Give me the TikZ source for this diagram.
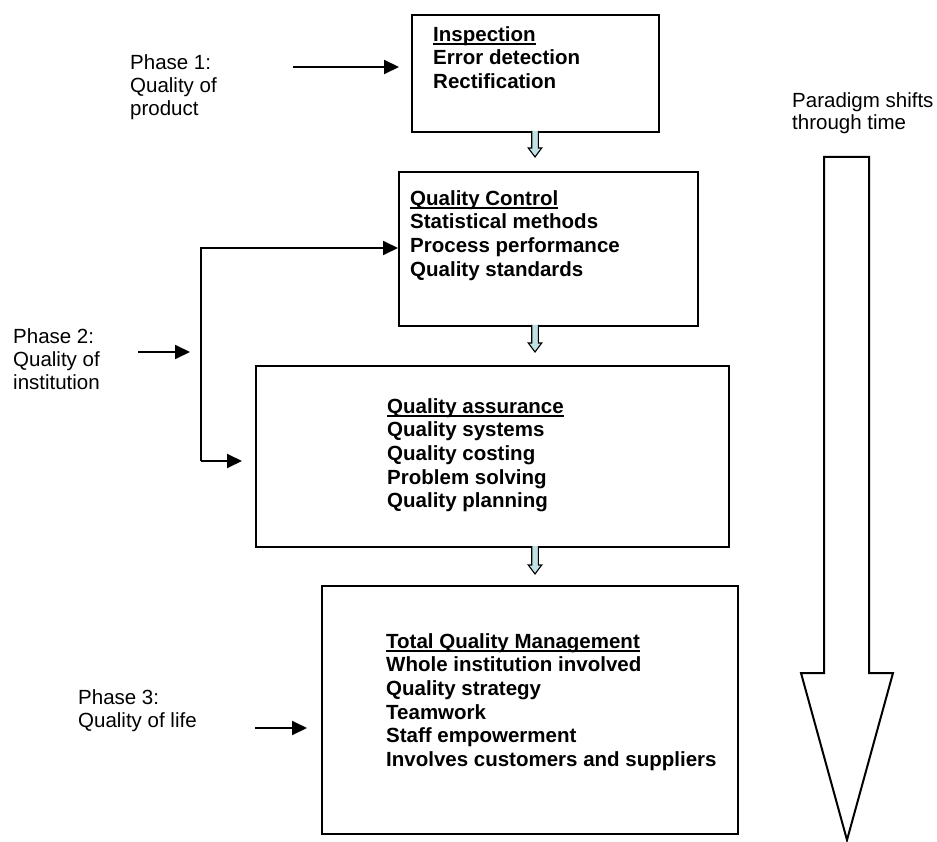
\documentclass[tikz,border=0pt]{standalone}
\usepackage{fontspec}
\setmainfont{Liberation Sans}
\usetikzlibrary{arrows.meta}

% heavy underline for the box headings
\newsavebox\headbox
\newcommand\headline[1]{\sbox\headbox{#1}\rlap{\vrule width\wd\headbox height -1.6pt depth 3.6pt}\usebox\headbox}

% small pale block arrow between two stages: x, top y, tip y
\newcommand\droparrow[3]{%
  \filldraw[stagearrow] (#1-3.3,#2) -- (#1-3.3,#3-9) -- (#1-6.7,#3-9) -- (#1,#3)
    -- (#1+6.7,#3-9) -- (#1+3.3,#3-9) -- (#1+3.3,#2);}

\definecolor{paleteal}{RGB}{192,226,228}

\begin{document}
\begin{tikzpicture}[x=1pt,y=-1pt,
  stage/.style={draw, line width=2pt, rectangle, inner sep=0pt, anchor=north west},
  stagetext/.style={anchor=north west, inner sep=0pt, align=left,
    font=\bfseries\fontsize{20.5}{23.7}\selectfont},
  phasetext/.style={anchor=north west, inner sep=0pt, align=left,
    font=\fontsize{20.5}{23}\selectfont},
  feed/.style={line width=2pt, -{Triangle[length=15pt,width=14pt]}},
  stagearrow/.style={draw=black, line width=1.1pt, fill=paleteal, line join=miter},
  timearrow/.style={draw=black, line width=2pt, fill=white, line join=miter}]

\useasboundingbox (0,0) rectangle (937,842);

% stage boxes
\node[stage, minimum width=247pt, minimum height=117pt] (insp) at (411,14) {};
\node[stage, minimum width=299pt, minimum height=154pt] (qc)   at (398,171) {};
\node[stage, minimum width=473pt, minimum height=181pt] (qa)   at (255,365) {};
\node[stage, minimum width=416pt, minimum height=248pt] (tqm)  at (321,585) {};

% stage contents
\node[stagetext] (insptext) at (433,24.4)
  {\strut\headline{Inspection}\\Error detection\\Rectification};
\node[stagetext] (qctext) at (410,188.4)
  {\strut\headline{Quality Control}\\Statistical methods\\Process performance\\Quality standards};
\node[stagetext] (qatext) at (387,396.4)
  {\strut\headline{Quality assurance}\\Quality systems\\Quality costing\\Problem solving\\Quality planning};
\node[stagetext] (tqmtext) at (386,631.4)
  {\strut\headline{Total Quality Management}\\Whole institution involved\\Quality strategy\\Teamwork\\Staff empowerment\\Involves customers and suppliers};

% arrows from one stage to the next
\droparrow{535}{131}{157}
\droparrow{535}{325}{352}
\droparrow{535}{546}{574}

% phase labels
\node[phasetext] (ph1) at (130,52.9) {\strut Phase 1:\\Quality of\\product};
\node[phasetext] (ph2) at (13,326.9) {\strut Phase 2:\\Quality of\\institution};
\node[phasetext] (ph3) at (78,687.9) {\strut Phase 3:\\Quality of life};

% phase 1 feed, stopping just short of the box
\coordinate (p1) at (293,67);
\draw[feed, shorten >=12pt] (p1) -- (p1 -| insp.west);

% phase 2 feed and bracket
\coordinate (p2) at (138,352);
\coordinate (p2end) at (190,352);
\draw[feed] (p2) -- (p2end);
\coordinate (bt) at (201,248);
\coordinate (bb) at (201,461);
\coordinate (bbend) at (242,461);
\draw[feed] (bb) -- (bt) -- (bt -| qc.west);
\draw[feed] (bb) -- (bbend);

% phase 3 feed
\coordinate (p3) at (255,728);
\coordinate (p3end) at (307,728);
\draw[feed] (p3) -- (p3end);

% time axis
\node[phasetext, font=\fontsize{20.5}{22.5}\selectfont] (timetext) at (792,91.2)
  {\strut Paradigm shifts\\through time};
\filldraw[timearrow] (824,157) -- (869,157) -- (869,673) -- (893,673) -- (847,840)
  -- (801,673) -- (824,673) -- cycle;

\end{tikzpicture}
\end{document}
